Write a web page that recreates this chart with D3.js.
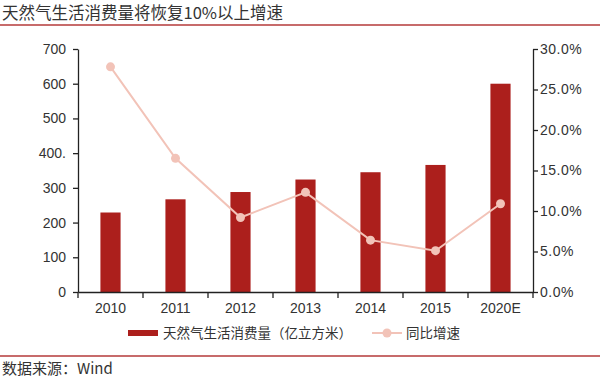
<!DOCTYPE html>
<html><head><meta charset="utf-8">
<script src="https://cdn.jsdelivr.net/npm/d3@7"></script>
<style>body{margin:0;background:#fff}svg{display:block}</style>
</head><body>
<script>
const categories = ["2010","2011","2012","2013","2014","2015","2020E"];
const consumption = [229, 267, 288, 324, 345, 366, 600];
const growth = [27.8, 16.5, 9.2, 12.3, 6.4, 5.1, 10.9];
const leftTicks = [0,100,200,300,400,500,600,700];
const leftTickLabels = ["0","100","200","300","400.","500","600","700"];
const rightTicks = [0,5,10,15,20,25,30];
const title = "天然气生活消费量将恢复10%以上增速";
const barName = "天然气生活消费量（亿立方米）";
const lineName = "同比增速";
const source = "数据来源：Wind";

const W = 600, H = 379;
const svg = d3.select("body").append("svg").attr("width", W).attr("height", H);
const sans = "'Liberation Sans', Arial, sans-serif";
const cjk = "'Noto Sans CJK SC', sans-serif";

const x = d3.scaleBand().domain(categories).range([78, 533]).paddingInner(0.69).paddingOuter(0.345);
const xb = d3.scaleBand().domain(categories).range([78, 533]);
const yL = d3.scaleLinear().domain([0, 700]).range([292, 49]);
const yR = d3.scaleLinear().domain([0, 30]).range([292, 49]);

// title
svg.append("text").attr("x", 2).attr("y", 19).attr("font-family", cjk)
  .attr("font-size", 16.5).attr("fill", "#333").text(title);
svg.append("line").attr("x1", 0).attr("x2", W).attr("y1", 25).attr("y2", 25)
  .attr("stroke", "#b53a3a").attr("stroke-width", 1.6);
svg.append("line").attr("x1", 0).attr("x2", W).attr("y1", 356).attr("y2", 356)
  .attr("stroke", "#b53a3a").attr("stroke-width", 1.6);
svg.append("text").attr("x", 2).attr("y", 374).attr("font-family", cjk)
  .attr("font-size", 15).attr("fill", "#333").text(source);

// bars
svg.append("g").selectAll("rect").data(categories).join("rect")
  .attr("x", d => x(d)).attr("width", x.bandwidth())
  .attr("y", (d, i) => yL(consumption[i])).attr("height", (d, i) => yL(0) - yL(consumption[i]))
  .attr("fill", "#ac1f1c");

// axes
const axL = svg.append("g").attr("transform", "translate(78,0)")
  .call(d3.axisLeft(yL).tickValues(leftTicks).tickFormat((d, i) => leftTickLabels[i]).tickSize(5).tickSizeOuter(0));
const axR = svg.append("g").attr("transform", "translate(533,0)")
  .call(d3.axisRight(yR).tickValues(rightTicks).tickFormat(d => d.toFixed(1) + "%").tickSize(5).tickSizeOuter(0));
const axB = svg.append("g").attr("transform", "translate(0,292)")
  .call(d3.axisBottom(xb).tickSize(0).tickSizeOuter(0));
axB.selectAll(".tick line").remove();
svg.append("g").selectAll("line").data(d3.range(categories.length + 1)).join("line")
  .attr("x1", i => 78 + i * xb.step()).attr("x2", i => 78 + i * xb.step())
  .attr("y1", 292).attr("y2", 298).attr("stroke", "#222").attr("stroke-width", 1.3);
[axL, axR, axB].forEach(a => {
  a.selectAll("path, line").attr("stroke", "#222").attr("stroke-width", 1.3);
  a.selectAll("text").attr("font-family", sans).attr("font-size", 14).attr("fill", "#333");
});
axB.selectAll("text").attr("dy", "1.3em");
axL.selectAll("text").attr("x", -12);
axR.selectAll("text").attr("x", 7).attr("letter-spacing", 0.5);

// line
const cx = (d, i) => xb(categories[i]) + xb.bandwidth() / 2;
svg.append("path").datum(growth)
  .attr("d", d3.line().x((d, i) => cx(d, i)).y(d => yR(d)))
  .attr("fill", "none").attr("stroke", "#f2c3b8").attr("stroke-width", 2);
svg.append("g").selectAll("circle").data(growth).join("circle")
  .attr("cx", (d, i) => cx(d, i)).attr("cy", d => yR(d)).attr("r", 4.5).attr("fill", "#f2c3b8");

// legend
svg.append("rect").attr("x", 128).attr("y", 330).attr("width", 30).attr("height", 6).attr("fill", "#ac1f1c");
svg.append("text").attr("x", 163).attr("y", 338).attr("font-family", cjk).attr("font-size", 13.5)
  .attr("fill", "#333").text(barName);
svg.append("line").attr("x1", 372).attr("x2", 402).attr("y1", 333).attr("y2", 333)
  .attr("stroke", "#f2c3b8").attr("stroke-width", 2);
svg.append("circle").attr("cx", 387).attr("cy", 333).attr("r", 4.5).attr("fill", "#f2c3b8");
svg.append("text").attr("x", 406).attr("y", 338).attr("font-family", cjk).attr("font-size", 13.5)
  .attr("fill", "#333").text(lineName);
</script>
</body></html>
